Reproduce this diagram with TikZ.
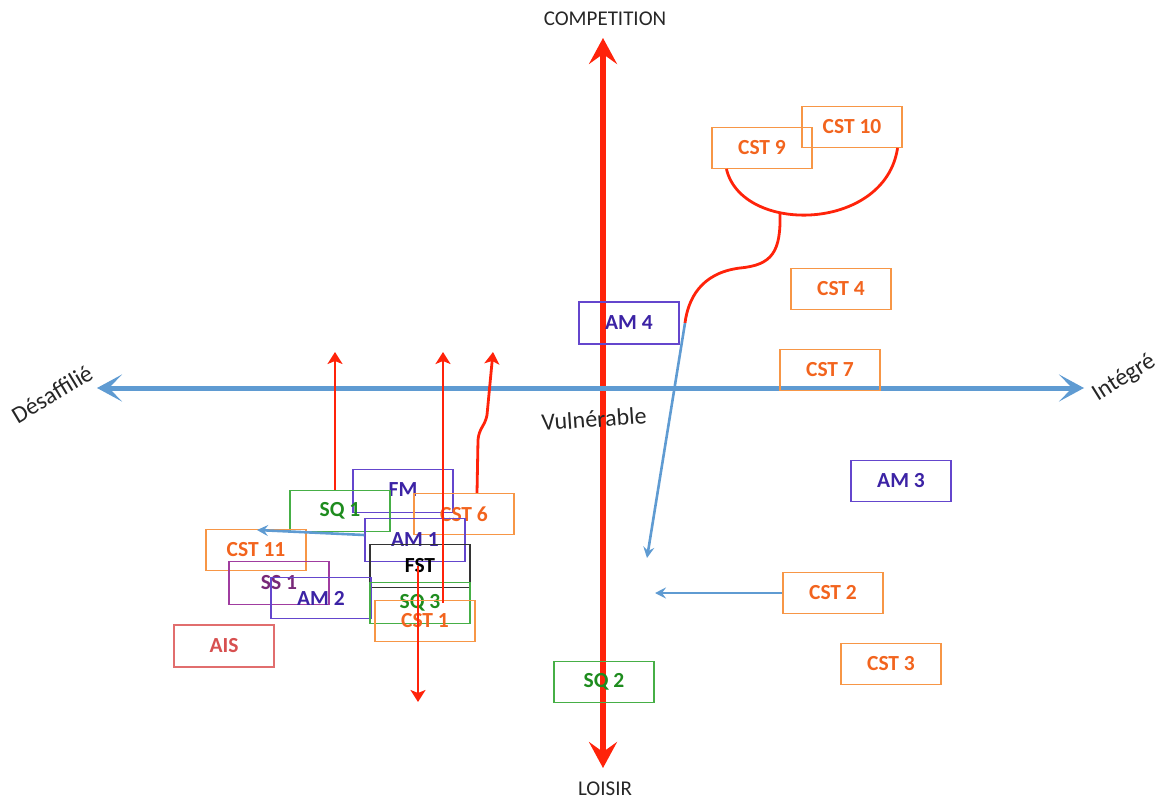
\documentclass[tikz,border=0pt]{standalone}
\usepackage{fontspec}
\setmainfont{Carlito}
\usetikzlibrary{arrows.meta,calc}
\definecolor{orB}{RGB}{247,150,70}
\definecolor{orT}{RGB}{242,100,30}
\definecolor{grB}{RGB}{70,175,70}
\definecolor{grT}{RGB}{30,140,30}
\definecolor{amB}{RGB}{100,70,205}
\definecolor{amT}{RGB}{60,35,165}
\definecolor{ssB}{RGB}{160,60,160}
\definecolor{ssT}{RGB}{120,40,120}
\definecolor{aisB}{RGB}{225,110,110}
\definecolor{aisT}{RGB}{215,80,80}
\definecolor{axred}{RGB}{255,35,10}
\definecolor{axblue}{RGB}{95,155,210}
\begin{document}
\begin{tikzpicture}[x=1pt,y=-1pt,
  box/.style={draw, line width=1.1pt, minimum width=100pt, minimum height=41pt,
    inner sep=0pt, font=\fontsize{21.5}{23}\selectfont\bfseries},
  obox/.style={box, draw=orB, text=orT},
  gbox/.style={box, draw=grB, text=grT},
  abox/.style={box, draw=amB, text=amT},
  sbox/.style={box, draw=ssB, text=ssT},
  rbox/.style={box, draw=aisB, text=aisT},
  kbox/.style={box, draw=black!80, text=black},
  lab/.style={font=\fontsize{21}{23}\selectfont, text=black!85},
  redarr/.style={draw=axred, line width=2.8pt, -{Stealth[length=12pt,width=15pt,inset=3pt]}},
  redline/.style={draw=axred, line width=2.8pt},
  bluearr/.style={draw=axblue, line width=2.6pt, -{Stealth[length=11pt,width=11pt,inset=4pt]}}
]
\useasboundingbox (0,0) rectangle (1159,800);

% axes
\coordinate (ctop) at (603,38);
\coordinate (cbot) at (603,768);
\coordinate (aleft) at (97,388);
\coordinate (aright) at (1084,388);
\draw[draw=axred, line width=5.5pt, {Stealth[length=26pt,width=28pt,inset=10pt]}-{Stealth[length=26pt,width=28pt,inset=10pt]}] (cbot) -- (ctop);
\draw[draw=axblue, line width=5pt, {Stealth[length=25pt,width=27pt,inset=13pt]}-{Stealth[length=25pt,width=27pt,inset=13pt]}] (aleft) -- (aright);

\node[lab] (comp) at (605,19) {COMPETITION};
\node[lab] (loisir) at (605,789) {LOISIR};
\node[lab, rotate=31, font=\fontsize{24}{26}\selectfont] (desaf) at (52,394) {Désaffilié};
\node[lab, rotate=32, font=\fontsize{24}{26}\selectfont] (integ) at (1124,378) {Intégré};
\node[lab, rotate=4, font=\fontsize{24}{26}\selectfont] (vuln) at (594,419) {Vulnérable};

% boxes
\node[obox] (cst9) at (762,148) {CST 9};
\node[obox] (cst10) at (852,127) {CST 10};
\node[obox] (cst4) at (841,289) {CST 4};
\node[abox, minimum height=42pt] (am4) at (629,323) {AM 4};
\node[obox] (cst7) at (830,370) {CST 7};
\node[abox] (am3) at (901,481) {AM 3};
\node[obox] (cst2) at (833,593) {CST 2};
\node[obox] (cst3) at (891,664) {CST 3};
\node[gbox] (sq2) at (604,682) {SQ 2};

\node[abox, minimum height=43pt] (fm) at (403,491) {\raisebox{3pt}{FM}};
\node[gbox] (sq1) at (340,511) {SQ 1};
\node[obox] (cst6) at (464,514) {CST 6};
\node[abox, minimum height=43pt] (am1) at (415,540) {AM 1};
\node[obox] (cst11) at (256,550) {CST 11};
\node[kbox, minimum height=43pt] (fst) at (420,566) {FST};
\node[sbox, minimum height=43pt] (ss1) at (279,583) {SS 1};
\node[abox] (am2) at (321,598) {AM 2};
\node[gbox] (sq3) at (420,603) {SQ 3};
\node[obox] (cst1) at (425,621) {\raisebox{-3pt}{CST 1}};
\node[rbox, minimum height=42pt] (ais) at (224,646) {AIS};

% CST 9 / CST 10 loop and its branch
\coordinate (fork) at (780,213);
\coordinate (knee) at (685,323);
\coordinate (vtip) at (647,558);
\draw[redline] ($(cst9.south west)+(15,0)$) .. controls (742,235) and (885,232) .. ($(cst10.south east)+(-5,0)$);
\draw[redline] (fork) .. controls (781,252) and (772,265) .. (740,268)
  .. controls (700,273) and (688,300) .. (knee);
\draw[bluearr] (knee) -- (vtip);

% CST 2 arrow
\coordinate (c2tip) at (655,593);
\draw[bluearr] (cst2.west) -- (c2tip);

% cluster arrows
\coordinate (up1) at (335,352);
\coordinate (up2) at (443,352);
\coordinate (up3) at (493,352);
\coordinate (down1) at (418,702);
\coordinate (left1) at (257,530);
\draw[redarr] (sq1.north -| up1) -- (up1);
\draw[redarr] (sq3.center -| up2) -- (up2);
\draw[redarr] ($(cst6.north)+(13,0)$) -- (478,440) .. controls (479,428) and (485,426) .. (487,415) -- (up3);
\draw[redarr] (fst.center -| down1) -- (down1);
\draw[bluearr] ($(am1.west)+(0,-5)$) -- (left1);
\end{tikzpicture}
\end{document}
